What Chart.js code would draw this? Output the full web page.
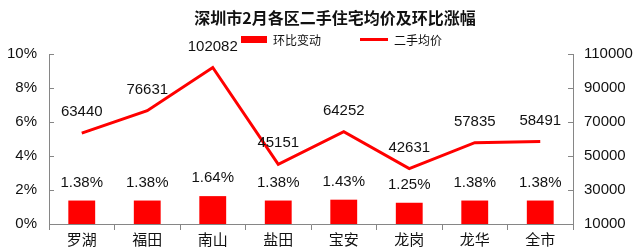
<!DOCTYPE html>
<html><head><meta charset="utf-8">
<script src="https://cdn.jsdelivr.net/npm/chart.js@4/dist/chart.umd.min.js"></script>
<style>html,body{margin:0;padding:0;background:#fff}#wrap{width:638px;height:251px}</style>
</head><body><div id="wrap"><canvas id="c" width="638" height="251"></canvas></div>
<script>
const title = '深圳市2月各区二手住宅均价及环比涨幅';
const categories = ['罗湖','福田','南山','盐田','宝安','龙岗','龙华','全市'];
const changePct = [1.38,1.38,1.64,1.38,1.43,1.25,1.38,1.38];
const avgPrice = [63440,76631,102082,45151,64252,42631,57835,58491];
const seriesNames = ['环比变动','二手均价'];
const leftTicks = [0,2,4,6,8,10];
const rightTicks = [10000,30000,50000,70000,90000,110000];

const FONT = "'Liberation Sans', 'Noto Sans CJK SC', Arial, sans-serif";
const CJK = "'Noto Sans CJK SC', 'Liberation Sans', sans-serif";
const RED = '#ff0000';
const AXIS = '#868686';
const TXT = '#111';

Chart.defaults.font.family = FONT;
Chart.defaults.color = TXT;

const deco = {
  id: 'deco',
  afterDatasetsDraw(chart) {
    const ctx = chart.ctx;
    const ca = chart.chartArea;
    const yL = chart.scales.y, yR = chart.scales.y2;
    ctx.save();
    // inside ticks on y axes
    ctx.strokeStyle = AXIS; ctx.lineWidth = 1;
    yL.ticks.forEach(t => { const y = Math.round(yL.getPixelForValue(t.value)) + 0.5;
      ctx.beginPath(); ctx.moveTo(ca.left, y); ctx.lineTo(ca.left + 5, y); ctx.stroke(); });
    yR.ticks.forEach(t => { const y = Math.round(yR.getPixelForValue(t.value)) + 0.5;
      ctx.beginPath(); ctx.moveTo(ca.right - 5, y); ctx.lineTo(ca.right, y); ctx.stroke(); });
    // data labels
    ctx.fillStyle = TXT; ctx.textAlign = 'center'; ctx.textBaseline = 'middle';
    ctx.font = '15px ' + FONT;
    const barMeta = chart.getDatasetMeta(0);
    barMeta.data.forEach((el, i) => {
      ctx.fillText(changePct[i].toFixed(2) + '%', el.x, el.y - 18);
    });
    const lineMeta = chart.getDatasetMeta(1);
    lineMeta.data.forEach((el, i) => {
      ctx.fillText(String(avgPrice[i]), el.x, el.y - 21);
    });
    // title
    ctx.font = 'bold 16px ' + CJK;
    ctx.fillText(title, 335, 18);
    // legend
    ctx.fillStyle = RED;
    ctx.fillRect(241, 36, 26, 7);
    ctx.strokeStyle = RED; ctx.lineWidth = 3;
    ctx.beginPath(); ctx.moveTo(360, 39.5); ctx.lineTo(388, 39.5); ctx.stroke();
    ctx.fillStyle = TXT; ctx.textAlign = 'left';
    ctx.font = '12px ' + CJK;
    ctx.fillText(seriesNames[0], 273, 40);
    ctx.fillText(seriesNames[1], 394, 40);
    ctx.restore();
  }
};

new Chart(document.getElementById('c'), {
  data: {
    labels: categories,
    datasets: [
      { type: 'bar', label: seriesNames[0], data: changePct, yAxisID: 'y',
        backgroundColor: RED, barPercentage: 0.41, categoryPercentage: 1, order: 2 },
      { type: 'line', label: seriesNames[1], data: avgPrice, yAxisID: 'y2',
        borderColor: RED, borderWidth: 3, pointRadius: 0, tension: 0, fill: false, order: 1 }
    ]
  },
  options: {
    responsive: false, animation: false, devicePixelRatio: 1,
    layout: { padding: { top: 54, left: 0, right: 0, bottom: 0 } },
    plugins: { legend: { display: false }, title: { display: false }, tooltip: { enabled: false } },
    scales: {
      x: {
        grid: { display: true, drawOnChartArea: false, drawTicks: true, tickLength: 6, offset: true, color: AXIS },
        border: { color: AXIS },
        ticks: { font: { size: 15, family: CJK }, color: TXT, padding: 0, maxRotation: 0 },
        afterFit(s) { s.height = 27; }
      },
      y: {
        position: 'left', min: 0, max: 10,
        afterBuildTicks(s) { s.ticks = leftTicks.map(v => ({ value: v })); },
        grid: { display: false, drawTicks: false },
        border: { color: AXIS },
        ticks: { font: { size: 15 }, color: TXT, padding: 12, callback: v => v + '%' },
        afterFit(s) { s.width = 49; }
      },
      y2: {
        position: 'right', min: 10000, max: 110000,
        afterBuildTicks(s) { s.ticks = rightTicks.map(v => ({ value: v })); },
        grid: { display: false, drawTicks: false },
        border: { color: AXIS },
        ticks: { font: { size: 15 }, color: TXT, padding: 11, callback: v => String(v) },
        afterFit(s) { s.width = 65; }
      }
    }
  },
  plugins: [deco]
});
</script></body></html>
